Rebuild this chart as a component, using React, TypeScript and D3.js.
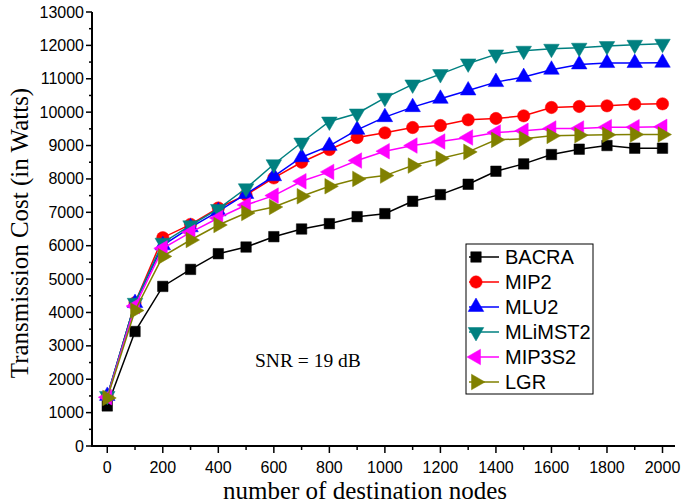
import React from "react";
import * as d3 from "d3";

const xValues = [0, 100, 200, 300, 400, 500, 600, 700, 800, 900, 1000, 1100, 1200, 1300, 1400, 1500, 1600, 1700, 1800, 1900, 2000];
const bacra = [1200, 3430, 4780, 5290, 5760, 5960, 6270, 6500, 6660, 6870, 6960, 7330, 7530, 7840, 8230, 8450, 8730, 8890, 9000, 8920, 8920];
const mip2 = [1480, 4290, 6240, 6640, 7130, 7520, 8030, 8500, 8880, 9240, 9380, 9540, 9600, 9770, 9810, 9890, 10140, 10170, 10190, 10240, 10250];
const mlu2 = [1500, 4280, 6010, 6550, 7030, 7550, 8080, 8650, 8990, 9470, 9850, 10150, 10400, 10650, 10900, 11050, 11270, 11430, 11470, 11470, 11480];
const mlimst2 = [1500, 4290, 6090, 6610, 7100, 7720, 8440, 9090, 9720, 9960, 10430, 10830, 11140, 11460, 11730, 11840, 11900, 11930, 11980, 12020, 12050];
const mip3s2 = [1460, 4190, 5920, 6400, 6830, 7220, 7500, 7930, 8210, 8550, 8830, 9000, 9120, 9240, 9390, 9440, 9510, 9510, 9550, 9550, 9560];
const lgr = [1440, 4060, 5680, 6170, 6620, 6980, 7160, 7480, 7780, 8000, 8100, 8400, 8610, 8810, 9170, 9200, 9290, 9310, 9320, 9330, 9330];

const seriesNames = ["BACRA", "MIP2", "MLU2", "MLiMST2", "MIP3S2", "LGR"];
const seriesData = [bacra, mip2, mlu2, mlimst2, mip3s2, lgr];
const seriesColors = ["#000000", "#ff0000", "#0000ff", "#008080", "#ff00ff", "#808000"];
const seriesShapes = ["square", "circle", "up", "down", "left", "right"];

const xMajorTicks = [0, 200, 400, 600, 800, 1000, 1200, 1400, 1600, 1800, 2000];
const xMinorTicks = [100, 300, 500, 700, 900, 1100, 1300, 1500, 1700, 1900];
const yMajorTicks = [0, 1000, 2000, 3000, 4000, 5000, 6000, 7000, 8000, 9000, 10000, 11000, 12000, 13000];
const yMinorTicks = [500, 1500, 2500, 3500, 4500, 5500, 6500, 7500, 8500, 9500, 10500, 11500, 12500];

const W = 685;
const H = 504;
const x = d3.scaleLinear().domain([-55, 2045]).range([92, 675]);
const y = d3.scaleLinear().domain([0, 13000]).range([446, 12]);

function markerPath(shape: string): { d: string; rot: number } {
  if (shape === "square") return { d: d3.symbol().type(d3.symbolSquare).size(110)() as string, rot: 0 };
  if (shape === "circle") return { d: d3.symbol().type(d3.symbolCircle).size(120)() as string, rot: 0 };
  const tri = d3.symbol().type(d3.symbolTriangle).size(105)() as string;
  const rot = shape === "up" ? 0 : shape === "down" ? 180 : shape === "left" ? -90 : 90;
  return { d: tri, rot };
}

function Marker({ cx, cy, shape, color }: { cx: number; cy: number; shape: string; color: string }) {
  const m = markerPath(shape);
  return <path d={m.d} transform={`translate(${cx},${cy}) rotate(${m.rot})`} fill={color} stroke={color} strokeWidth={0.5} />;
}

export default function App() {
  const line = d3
    .line<number>()
    .x((_, i) => x(xValues[i]))
    .y((d) => y(d));

  const legendX = 466;
  const legendY = 244;
  const legendW = 127;
  const legendH = 150;

  return (
    <svg width={W} height={H} style={{ position: "absolute", left: 0, top: 0, background: "#fff" }}>
      <rect x={0} y={0} width={W} height={H} fill="#fff" />
      {/* series */}
      {seriesData.map((data, si) => (
        <g key={seriesNames[si]}>
          <path d={line(data) as string} fill="none" stroke={seriesColors[si]} strokeWidth={1.5} />
          {data.map((v, i) => (
            <Marker key={i} cx={x(xValues[i])} cy={y(v)} shape={seriesShapes[si]} color={seriesColors[si]} />
          ))}
        </g>
      ))}

      {/* axes */}
      <line x1={92} x2={92} y1={y(13000)} y2={446} stroke="#000" strokeWidth={2} />
      <line x1={91} x2={675} y1={446} y2={446} stroke="#000" strokeWidth={2} />
      {yMajorTicks.map((t) => (
        <g key={"ym" + t}>
          <line x1={86} x2={92} y1={y(t)} y2={y(t)} stroke="#000" strokeWidth={1.5} />
          <text x={84} y={y(t) + 5.5} textAnchor="end" fontFamily="'Liberation Sans', Arial, sans-serif" fontSize={16}>
            {t}
          </text>
        </g>
      ))}
      {yMinorTicks.map((t) => (
        <line key={"yn" + t} x1={89} x2={92} y1={y(t)} y2={y(t)} stroke="#000" strokeWidth={1.5} />
      ))}
      {xMajorTicks.map((t) => (
        <g key={"xm" + t}>
          <line x1={x(t)} x2={x(t)} y1={446} y2={453} stroke="#000" strokeWidth={1.5} />
          <text x={x(t)} y={473} textAnchor="middle" fontFamily="'Liberation Sans', Arial, sans-serif" fontSize={16}>
            {t}
          </text>
        </g>
      ))}
      {xMinorTicks.map((t) => (
        <line key={"xn" + t} x1={x(t)} x2={x(t)} y1={446} y2={450} stroke="#000" strokeWidth={1.5} />
      ))}

      {/* axis titles */}
      <text x={365} y={499} textAnchor="middle" fontFamily="'Liberation Serif', 'Times New Roman', serif" fontSize={25}>
        number of destination nodes
      </text>
      <text
        transform={`translate(28,233) rotate(-90)`}
        textAnchor="middle"
        fontFamily="'Liberation Serif', 'Times New Roman', serif"
        fontSize={25}
      >
        Transmission Cost (in Watts)
      </text>

      {/* annotation */}
      <text x={255} y={367} fontFamily="'Liberation Serif', 'Times New Roman', serif" fontSize={19.5}>
        SNR = 19 dB
      </text>

      {/* legend */}
      <rect x={legendX} y={legendY} width={legendW} height={legendH} fill="#fff" stroke="#000" strokeWidth={1} />
      {seriesNames.map((name, i) => {
        const ly = 257 + i * 25;
        return (
          <g key={"lg" + name}>
            <line x1={469} x2={499} y1={ly} y2={ly} stroke={seriesColors[i]} strokeWidth={1.5} />
            <Marker cx={476} cy={ly} shape={seriesShapes[i]} color={seriesColors[i]} />
            <text x={505} y={ly + 7} fontFamily="'Liberation Sans', Arial, sans-serif" fontSize={20}>
              {name}
            </text>
          </g>
        );
      })}
    </svg>
  );
}
